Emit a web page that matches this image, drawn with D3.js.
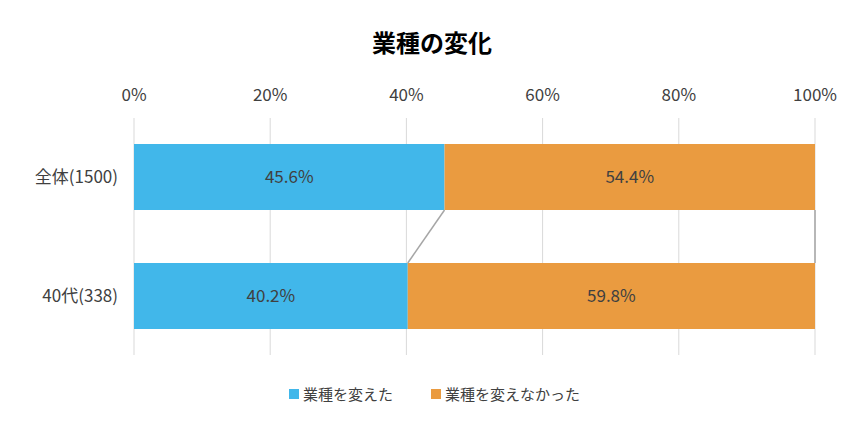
<!DOCTYPE html>
<html><head><meta charset="utf-8">
<script src="https://cdn.jsdelivr.net/npm/d3@7"></script>
<style>body{margin:0;background:#fff}text{font-family:"Noto Sans CJK JP","Noto Sans",sans-serif}</style>
</head><body><svg id="c" width="865" height="426"></svg>
<script>
const categories = ["全体(1500)", "40代(338)"];
const seriesNames = ["業種を変えた", "業種を変えなかった"];
const changed = [45.6, 40.2];
const notChanged = [54.4, 59.8];
const tickLabels = ["0%", "20%", "40%", "60%", "80%", "100%"];
const colors = ["#41B7EA", "#EA9B40"];

const svg = d3.select("#c");
const x = d3.scaleLinear().domain([0, 100]).range([134, 815]);
const y2 = d3.scaleBand().domain(categories).range([144, 329]).paddingInner(53 / 119).paddingOuter(0);

svg.append("text").attr("x", 432).attr("y", 52).attr("text-anchor", "middle")
  .attr("font-size", 24).attr("font-weight", "bold").text("業種の変化");

d3.range(0, 101, 20).forEach((v, i) => {
  svg.append("line").attr("x1", x(v)).attr("x2", x(v)).attr("y1", 118).attr("y2", 355)
    .attr("stroke", "#d9d9d9").attr("stroke-width", 1);
  svg.append("text").attr("x", x(v)).attr("y", 101).attr("text-anchor", "middle")
    .attr("font-size", 17).attr("fill", "#404040").text(tickLabels[i]);
});

const rows = categories.map((c, i) => ({c, vals: [changed[i], notChanged[i]]}));
rows.forEach((r, i) => {
  let acc = 0;
  r.vals.forEach((v, j) => {
    svg.append("rect").attr("x", x(acc)).attr("y", y2(r.c)).attr("width", x(acc + v) - x(acc))
      .attr("height", y2.bandwidth()).attr("fill", colors[j]);
    svg.append("text").attr("x", (x(acc) + x(acc + v)) / 2).attr("y", y2(r.c) + y2.bandwidth() / 2 + 6)
      .attr("text-anchor", "middle").attr("font-size", 17).attr("fill", "#404040").text(v.toFixed(1) + "%");
    acc += v;
  });
  svg.append("text").attr("x", 118).attr("y", y2(r.c) + y2.bandwidth() / 2 + 6)
    .attr("text-anchor", "end").attr("font-size", 17).attr("fill", "#404040").text(r.c);
});
[[changed[0], changed[1]], [100, 100]].forEach(([a, b]) => {
  svg.append("line").attr("x1", x(a)).attr("y1", y2(categories[0]) + y2.bandwidth())
    .attr("x2", x(b)).attr("y2", y2(categories[1])).attr("stroke", "#a6a6a6").attr("stroke-width", 1.5);
});
const lx = [289, 431];
seriesNames.forEach((n, i) => {
  svg.append("rect").attr("x", lx[i]).attr("y", 389).attr("width", 10).attr("height", 10).attr("fill", colors[i]);
  svg.append("text").attr("x", lx[i] + 14).attr("y", 400).attr("font-size", 15).attr("fill", "#404040").text(n);
});
</script></body></html>
